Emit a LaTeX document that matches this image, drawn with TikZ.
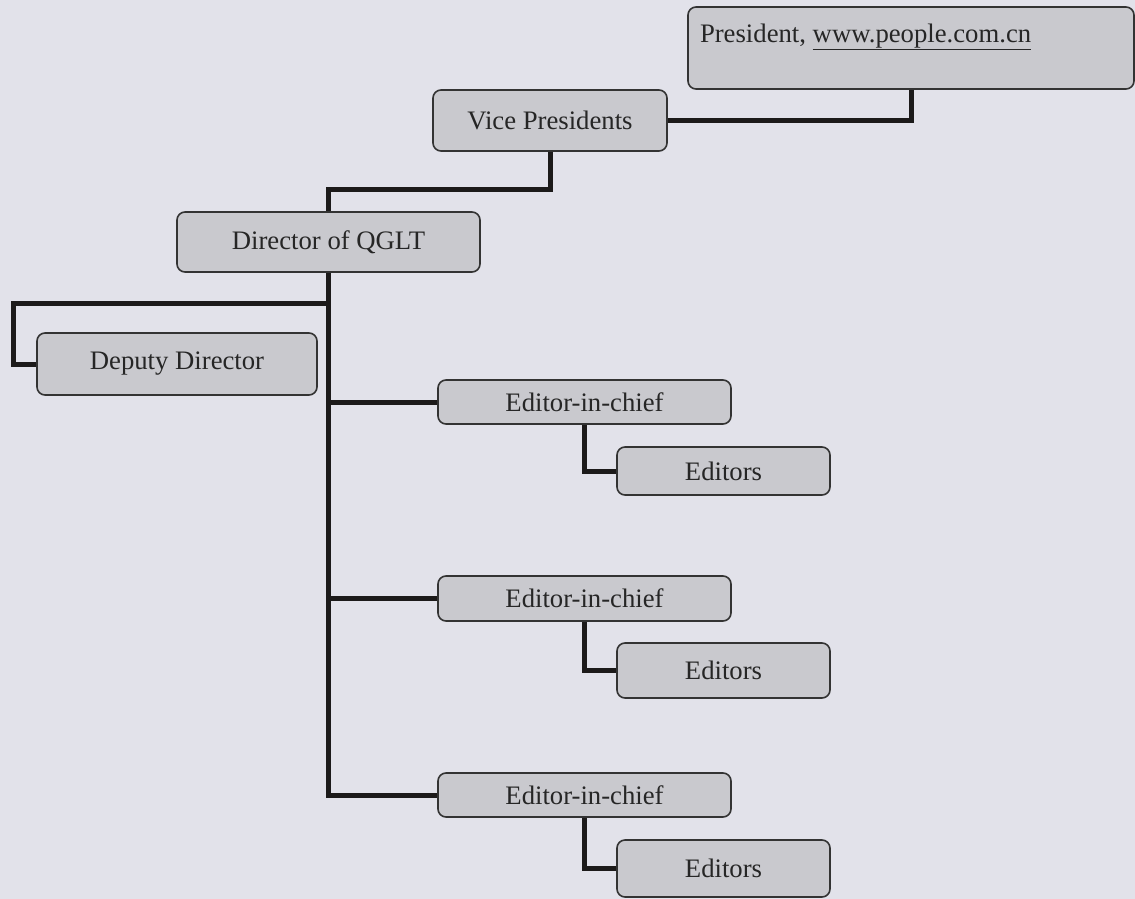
\documentclass[tikz,border=0pt]{standalone}
\usepackage{fontspec}
\setmainfont{Liberation Serif}
\definecolor{bgcol}{HTML}{E2E2EA}
\definecolor{boxfill}{HTML}{C9C9CE}
\definecolor{boxline}{HTML}{333333}
\definecolor{conncol}{HTML}{1C1A1A}
\pgfdeclarelayer{paper}
\pgfdeclarelayer{wires}
\pgfsetlayers{paper,wires,main}
\tikzset{
  box/.style={draw=boxline, fill=boxfill, line width=1.6pt, rounded corners=8pt,
    inner sep=0pt, text=black!85, font=\fontsize{26.7}{32}\selectfont},
  conn/.style={draw=conncol, line width=5pt}
}
\begin{document}
\begin{tikzpicture}[x=1pt, y=-1pt]
\begin{pgfonlayer}{paper}
\fill[bgcol] (0,0) rectangle (1135,899);
\end{pgfonlayer}
\useasboundingbox (0,0) rectangle (1135,899);

\node[box, minimum width=446pt, minimum height=82pt] (pres) at (911,48)
  {\parbox[c][82pt][t]{422pt}{\vspace{17pt}President, \underline{www.people.com.cn}}};
\node[box, minimum width=234pt, minimum height=61pt] (vp) at (550,120.5) {Vice Presidents};
\node[box, minimum width=303pt, minimum height=60pt] (dir) at (328.5,242) {Director of QGLT};
\node[box, minimum width=280pt, minimum height=62pt] (dep) at (177,364) {Deputy Director};
\node[box, minimum width=293pt, minimum height=44pt] (eic1) at (584.5,402) {Editor-in-chief};
\node[box, minimum width=213pt, minimum height=48pt] (ed1) at (723.5,471) {Editors};
\node[box, minimum width=293pt, minimum height=45pt] (eic2) at (584.5,598.5) {Editor-in-chief};
\node[box, minimum width=213pt, minimum height=55pt] (ed2) at (723.5,670.5) {Editors};
\node[box, minimum width=293pt, minimum height=44pt] (eic3) at (584.5,795) {Editor-in-chief};
\node[box, minimum width=213pt, minimum height=57pt] (ed3) at (723.5,868.5) {Editors};

\begin{pgfonlayer}{wires}
\draw[conn] (pres.south) |- (vp.east);
\draw[conn] (vp.south) -- (vp.south |- 0,189) -| (dir.north);
\draw[conn] (dir.south) -- (dir.south |- eic3.west) -- (eic3.west);
\draw[conn] (dir.south |- 0,303) -- ++(-315,0) |- (dep.west);
\draw[conn] (dir.south |- eic1.west) -- (eic1.west);
\draw[conn] (dir.south |- eic2.west) -- (eic2.west);
\draw[conn] (eic1.south) |- (ed1.west);
\draw[conn] (eic2.south) |- (ed2.west);
\draw[conn] (eic3.south) |- (ed3.west);
\end{pgfonlayer}
\end{tikzpicture}
\end{document}
